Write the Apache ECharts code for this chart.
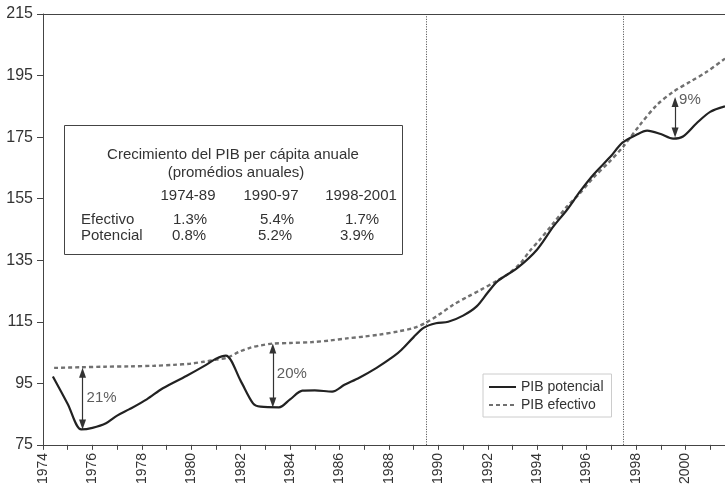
<!DOCTYPE html>
<html>
<head>
<meta charset="utf-8">
<script src="https://cdn.jsdelivr.net/npm/echarts@6/dist/echarts.min.js"></script>
<style>
html,body{margin:0;padding:0;background:#fff;}
#c{width:725px;height:487px;}
</style>
</head>
<body>
<div id="c"></div>
<script>
// ---- data ----
const potYears  = [1974.4, 1975.0, 1975.55, 1976.0, 1976.55, 1977.0, 1977.5, 1978.2, 1978.85, 1979.8, 1980.6, 1981.0, 1981.4, 1982.0, 1982.5, 1982.8, 1983.55, 1984.0, 1984.5, 1985.0, 1985.7, 1986.2, 1986.8, 1987.5, 1988.2, 1988.5, 1989.0, 1989.4, 1989.9, 1990.4, 1991.0, 1991.55, 1992.0, 1992.4, 1993.2, 1994.0, 1994.65, 1995.2, 1995.75, 1996.3, 1996.95, 1997.45, 1998.0, 1998.45, 1999.0, 1999.5, 1999.9, 2000.45, 2001.0, 2001.6];
const potValues = [97.2, 88.3, 80.0, 80.5, 82.0, 84.5, 86.6, 89.8, 93.4, 97.4, 101.0, 103.0, 104.0, 95.8, 88.5, 87.4, 87.2, 89.8, 92.6, 92.7, 92.3, 94.5, 96.8, 100.0, 103.8, 105.8, 110.0, 113.0, 114.5, 115.0, 117.0, 120.0, 124.5, 128.2, 132.5, 138.5, 145.9, 151.3, 157.5, 163.0, 168.5, 173.2, 175.7, 177.1, 176.0, 174.5, 175.2, 179.5, 183.2, 185.0];

const efeYears  = [1974.45, 1975.5, 1976.5, 1977.5, 1978.5, 1979.3, 1980.0, 1980.5, 1981.0, 1981.45, 1981.95, 1982.4, 1982.8, 1983.3, 1984.0, 1984.9, 1985.6, 1986.3, 1987.0, 1987.6, 1988.4, 1989.0, 1989.5, 1990.0, 1990.6, 1991.2, 1991.7, 1992.3, 1992.8, 1993.3, 1993.7, 1994.1, 1994.6, 1995.2, 1995.7, 1996.27, 1996.9, 1997.48, 1998.15, 1998.84, 1999.5, 2000.19, 2000.86, 2001.6];
const efeValues = [100.0, 100.2, 100.4, 100.5, 100.7, 101.0, 101.4, 102.0, 102.7, 103.3, 105.3, 106.6, 107.3, 107.9, 108.1, 108.4, 108.9, 109.6, 110.2, 110.8, 111.9, 113.0, 114.7, 117.2, 120.5, 123.2, 125.3, 128.0, 130.4, 133.8, 138.0, 141.6, 146.5, 152.4, 156.5, 161.8, 166.8, 171.9, 178.9, 185.4, 189.7, 193.0, 196.2, 200.5];

const seriesNames = ['PIB potencial', 'PIB efectivo'];
const periodBreaks = [1989.5, 1997.5];

// gap annotations (double arrows)
const gapYears   = [1975.6, 1983.3, 1999.58];
const gapTop     = [100.0, 107.9, 188.0];
const gapBottom  = [80.0, 87.2, 174.9];
const gapLabels  = ['21%', '20%', '9%'];
const gapLabelY  = [90.3, 98.0, 187.0];

// inset table
const tableTitle = 'Crecimiento del PIB per cápita anuale';
const tableSubtitle = '(promédios anuales)';
const tablePeriods = ['1974-89', '1990-97', '1998-2001'];
const tableRows = ['Efectivo', 'Potencial'];
const efectivoRates = ['1.3%', '5.4%', '1.7%'];
const potencialRates = ['0.8%', '5.2%', '3.9%'];

const yMin = 75, yMax = 215, yStep = 20;
const xMin = 1974, xMax = 2001.6;

// ---- chart ----
const FONT = '"Liberation Sans", Arial, sans-serif';
const TXT = '#333';
const chart = echarts.init(document.getElementById('c'), null, {renderer: 'canvas'});

const pair = (xs, ys) => xs.map((x, i) => [x, ys[i]]);

// inset table graphic
const colX = [188, 271, 361];
const rateX = [[190, 277, 362], [189, 275, 357]];
const tableEls = [
  {type: 'rect', shape: {x: 64.5, y: 125.5, width: 338, height: 129}, style: {fill: '#fff', stroke: '#444', lineWidth: 1}},
  {type: 'text', x: 233, y: 155, style: {text: tableTitle, font: '15px ' + FONT, fill: TXT, align: 'center', verticalAlign: 'middle'}},
  {type: 'text', x: 236, y: 173, style: {text: tableSubtitle, font: '15px ' + FONT, fill: TXT, align: 'center', verticalAlign: 'middle'}}
];
tablePeriods.forEach((p, i) => tableEls.push({type: 'text', x: colX[i], y: 196, style: {text: p, font: '15px ' + FONT, fill: TXT, align: 'center', verticalAlign: 'middle'}}));
tableRows.forEach((r, j) => tableEls.push({type: 'text', x: 81, y: 220 + j * 16, style: {text: r, font: '15px ' + FONT, fill: TXT, align: 'left', verticalAlign: 'middle'}}));
[efectivoRates, potencialRates].forEach((row, j) => row.forEach((v, i) => tableEls.push({type: 'text', x: rateX[j][i], y: 220 + j * 16, style: {text: v, font: '15px ' + FONT, fill: TXT, align: 'center', verticalAlign: 'middle'}})));

const option = {
  animation: false,
  backgroundColor: '#fff',
  grid: {left: 43, right: 0, top: 14, bottom: 42, containLabel: false},
  legend: {
    orient: 'vertical', left: 483, top: 374,
    padding: [6, 8, 5, 5], itemGap: 4, itemWidth: 27, itemHeight: 14,
    borderColor: '#ccc', borderWidth: 1, backgroundColor: '#fff',
    itemStyle: {color: 'rgba(0,0,0,0)', borderWidth: 0, opacity: 0},
    textStyle: {fontFamily: FONT, fontSize: 14, color: TXT},
    data: seriesNames
  },
  xAxis: [{
    type: 'value', min: xMin, max: xMax, interval: 1,
    axisLine: {show: true, lineStyle: {color: '#444', width: 1}},
    axisTick: {show: true, inside: false, length: 5, lineStyle: {color: '#444'}},
    axisLabel: {
      rotate: 90, margin: 8, fontFamily: FONT, fontSize: 14, color: TXT,
      formatter: v => (Math.abs(v - Math.round(v)) < 1e-6 && Math.round(v) % 2 === 0 && v <= 2000) ? String(Math.round(v)) : ''
    },
    splitLine: {show: false}
  }, {
    type: 'value', position: 'top', min: xMin, max: xMax,
    axisLine: {show: true, onZero: false, lineStyle: {color: '#444', width: 1}},
    axisTick: {show: false}, axisLabel: {show: false}, splitLine: {show: false}
  }],
  yAxis: {
    type: 'value', min: yMin, max: yMax, interval: yStep,
    axisLine: {show: true, lineStyle: {color: '#444', width: 1}},
    axisTick: {show: true, length: 6, lineStyle: {color: '#444'}},
    axisLabel: {margin: 10, fontFamily: FONT, fontSize: 16, color: TXT},
    splitLine: {show: false}
  },
  graphic: tableEls.map(e => Object.assign({z: 50}, e)),
  series: [
    {
      name: seriesNames[0], type: 'line', data: pair(potYears, potValues),
      showSymbol: false, symbol: 'none', smooth: 0.3, z: 5,
      lineStyle: {color: '#222', width: 2.2},
      itemStyle: {color: '#222'},
      markLine: {
        silent: true, symbol: ['triangle', 'triangle'], symbolSize: [7, 10],
        lineStyle: {color: '#333', width: 1.2, type: 'solid'},
        label: {show: false},
        data: gapYears.map((x, i) => [{coord: [x, gapTop[i] - 1.6]}, {coord: [x, gapBottom[i] + 1.6]}])
      }
    },
    {
      name: seriesNames[1], type: 'line', data: pair(efeYears, efeValues),
      showSymbol: false, symbol: 'none', smooth: 0.3, z: 4,
      lineStyle: {color: '#707070', width: 2.4, type: [4, 3]},
      itemStyle: {color: '#707070'},
      markLine: {
        silent: true, symbol: ['none', 'none'],
        lineStyle: {color: '#444', width: 1, type: [1, 1.5]},
        label: {show: false},
        data: periodBreaks.map(x => ({xAxis: x}))
      }
    },
    {
      name: 'gapLabels', type: 'scatter', symbolSize: 0, silent: true,
      data: gapYears.map((x, i) => ({value: [x, gapLabelY[i]], label: {formatter: gapLabels[i]}})),
      label: {show: true, position: 'right', distance: 4, fontFamily: FONT, fontSize: 15, color: TXT}
    }
  ]
};
chart.setOption(option);
</script>
</body>
</html>
